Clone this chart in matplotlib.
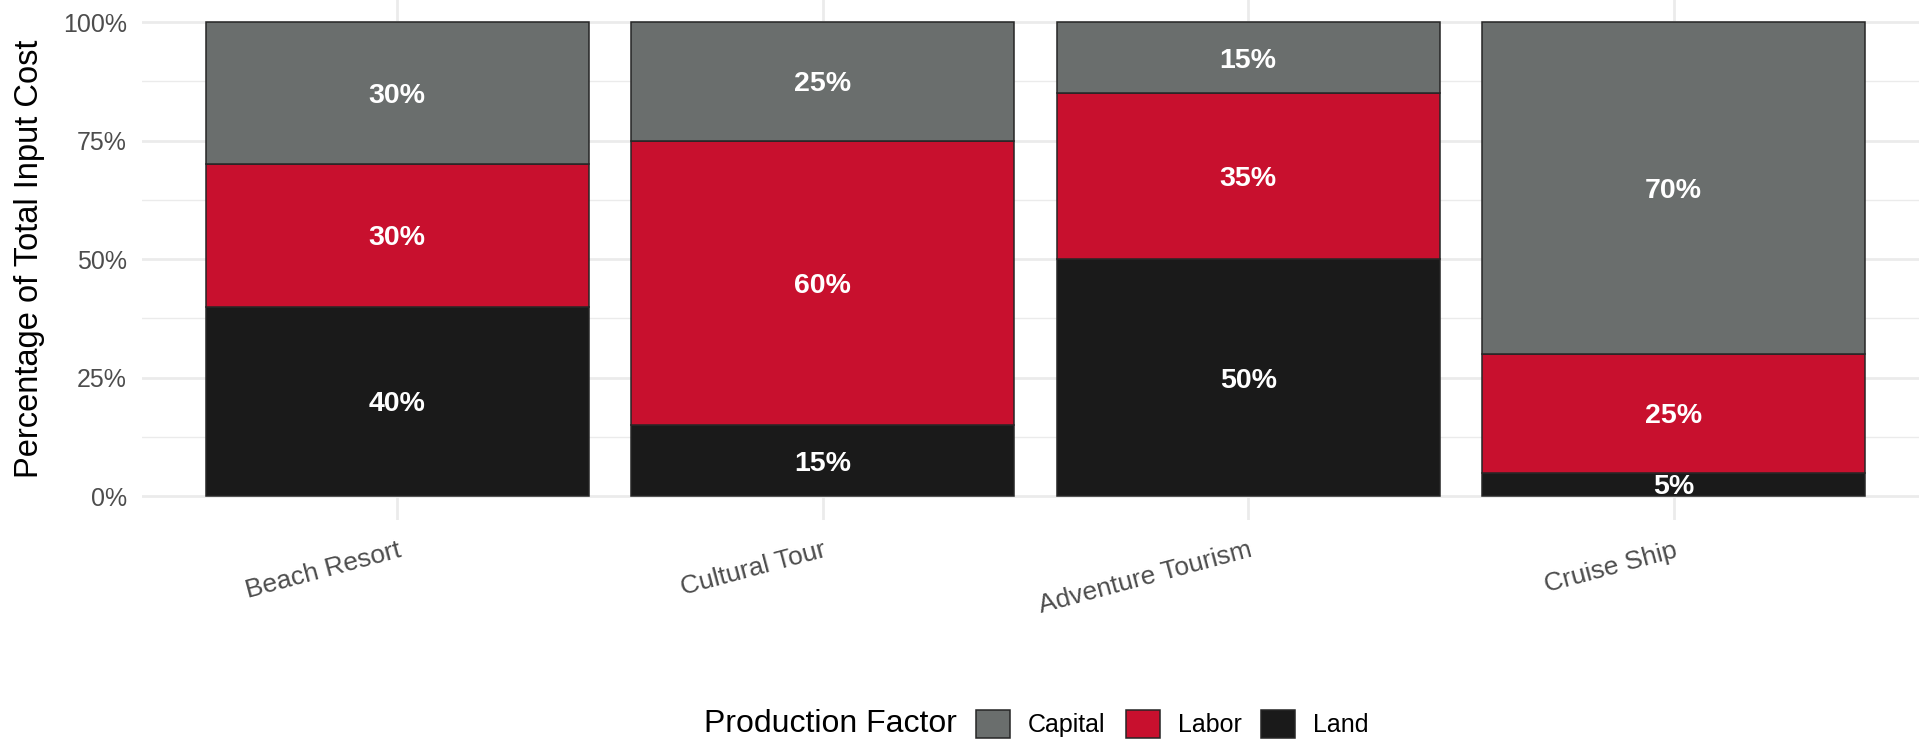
import numpy as np
import matplotlib.pyplot as plt
from matplotlib.patches import Patch

plt.rcParams['font.family'] = ['Liberation Sans', 'DejaVu Sans']

categories = ['Beach Resort', 'Cultural Tour', 'Adventure Tourism', 'Cruise Ship']
# shares in percent, stacked bottom to top: Land, Labor, Capital
land = [40, 15, 50, 5]
labor = [30, 60, 35, 25]
capital = [30, 25, 15, 70]
y_ticks = [0, 0.25, 0.5, 0.75, 1.0]
y_ticklabels = ['0%', '25%', '50%', '75%', '100%']

factors = ['Land', 'Labor', 'Capital']
shares = {'Land': land, 'Labor': labor, 'Capital': capital}
colors = {'Capital': '#6a6e6d', 'Labor': '#c8102e', 'Land': '#1a1a1a'}

W, H = 1919, 739
fig = plt.figure(figsize=(W / 100, H / 100), dpi=100)
# panel: x from 142 px to 1929 px, y from -1.7 px to 520 px
ax = fig.add_axes([142 / W, (H - 520) / H, 1787 / W, 521.7 / H])

x = np.arange(len(categories))
bottom = np.zeros(len(categories))
for f in factors:
    vals = np.array(shares[f]) / 100
    ax.bar(x, vals, width=0.9, bottom=bottom, color=colors[f],
           edgecolor='#262626', linewidth=1.1, zorder=3)
    for xi, b, v in zip(x, bottom, vals):
        ax.text(xi, b + v / 2, f'{v * 100:.0f}%', ha='center', va='center_baseline',
                color='white', fontsize=20.5, fontweight='bold', zorder=4)
    bottom += vals

ax.set_xlim(-0.6, 3.6)
ax.set_ylim(-0.05, 1.05)
ax.set_yticks(y_ticks, y_ticklabels)
ax.set_yticks([0.125, 0.375, 0.625, 0.875], minor=True)
ax.set_xticks(x, categories, rotation=15, ha='right', rotation_mode='anchor')
ax.tick_params(axis='both', which='both', length=0, labelcolor='#4d4d4d')
ax.tick_params(axis='y', labelsize=18, pad=11)
ax.tick_params(axis='x', labelsize=19, pad=13)

ax.grid(True, which='major', color='#ebebeb', linewidth=2.0, zorder=0)
ax.grid(True, which='minor', axis='y', color='#ebebeb', linewidth=1.0, zorder=0)
ax.set_axisbelow(True)
for s in ax.spines.values():
    s.set_visible(False)

fig.text(30 / W, 1 - 259 / H, 'Percentage of Total Input Cost', rotation=90,
         ha='center', va='center', fontsize=23.5, color='black')

# legend: title on the left, keys in one row
leg_y = 1 - 724 / H
fig.text(957 / W, leg_y, 'Production Factor', ha='right', va='center', fontsize=23)
handles = [Patch(facecolor=colors[f], edgecolor='#262626', linewidth=1.1, label=f)
           for f in ['Capital', 'Labor', 'Land']]
fig.legend(handles=handles, loc='center left', bbox_to_anchor=(976 / W, leg_y),
           ncol=3, frameon=False, fontsize=18, handlelength=1.36, handleheight=1.36,
           handletextpad=0.72, columnspacing=0.8, borderpad=0, borderaxespad=0)

fig.savefig('out.png', dpi=100)
